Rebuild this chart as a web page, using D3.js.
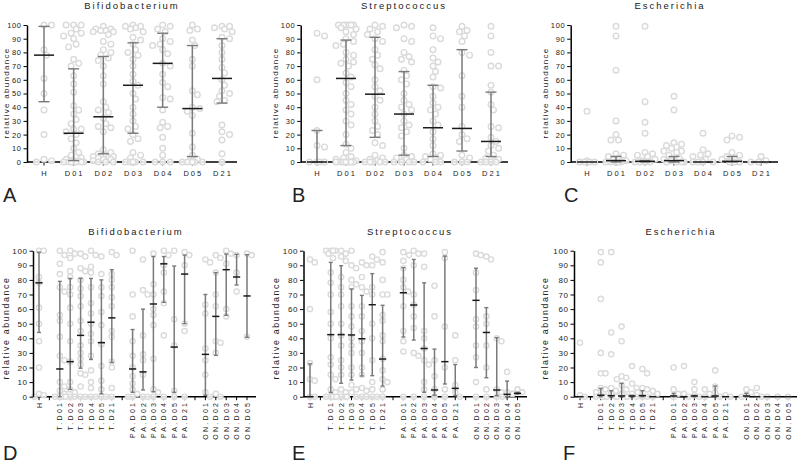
<!DOCTYPE html>
<html><head><meta charset="utf-8">
<script src="https://cdn.jsdelivr.net/npm/d3@7"></script>
<style>
body{margin:0;background:#fff;}
svg{display:block;font-family:"Liberation Sans",Arial,sans-serif;}
</style></head>
<body>
<svg id="chart" width="798" height="463"></svg>
<script>
// ---------------- DATA ----------------
const topCategories = ["H","D01","D02","D03","D04","D05","D21"];
const bottomCategories = ["H","gap1","T.D01","T.D02","T.D03","T.D04","T.D05","T.D21","gap2",
  "PA.D01","PA.D02","PA.D03","PA.D04","PA.D05","PA.D21","gap3",
  "ON.D01","ON.D02","ON.D03","ON.D04","ON.D05"];
const bottomTickLabels = ["H","","T.D01","T.D02","T.D03","T.D04","T.D05","T.D21","",
  "PA.D01","PA.D02","PA.D03","PA.D04","PA.D05","PA.D21","",
  "ON.D01","ON.D02","ON.D03","ON.D04","ON.D05"];
const yTicks = [0,10,20,30,40,50,60,70,80,90,100];

// Panel A – Bifidobacterium (top)
const bifTopMedian = [78,21,33,56,72,39,61];
const bifTopLow    = [44,1,6,21,40,4,43];
const bifTopHigh   = [99,68,77,87,94,85,90];
const bifTopPoints = [
  [100,100,82,78,61,50,38,20,2,1,0],
  [100,100,100,97,94,94,92,90,86,84,75,72,70,63,57,51,41,38,35,31,28,24,24,22,20,17,14,10,7,5,3,2,1,1,0,0,0,0,0,0],
  [99,97,97,96,96,95,95,93,88,86,82,80,78,76,74,70,63,57,44,40,38,36,32,28,26,25,22,9,7,6,5,4,4,4,3,3,2,2,1,0,0,0],
  [100,99,99,98,97,95,91,89,86,82,80,78,75,70,64,59,56,50,46,40,35,30,26,24,20,17,15,7,5,3,0,0,0,0,0],
  [100,99,97,95,90,88,86,85,82,79,72,70,64,58,55,47,46,38,29,26,25,18,10,5,0,0,0],
  [100,97,96,89,85,75,70,52,49,40,39,37,34,21,11,5,2,1,0,0,0,0,0],
  [99,99,98,97,95,91,90,85,80,75,69,65,60,56,52,50,48,45,44,27,22,20,16,6,0]
];

// Panel B – Streptococcus (top)
const strTopMedian = [0,61,49.5,35,25,24.5,15];
const strTopLow    = [0,12,18,5,4,8,4];
const strTopHigh   = [23,89,91,66,56,82,51];
const strTopPoints = [
  [94,92,60,23,12,11,0,0,0,0],
  [100,100,100,100,100,100,98,97,95,93,90,88,86,85,80,78,75,73,72,70,65,62,58,55,50,45,42,38,35,30,27,20,13,10,7,4,3,2,1,0,0,0,0,0,0,0],
  [100,99,97,95,93,90,88,82,78,75,71,68,60,55,52,48,45,40,35,30,26,23,20,14,12,5,3,2,1,0,0,0,0,0],
  [100,99,98,90,88,80,77,75,73,67,63,60,57,50,45,42,40,38,35,30,27,25,22,19,10,5,4,3,2,0,0,0,0],
  [98,92,90,82,76,73,70,66,62,55,54,48,43,40,38,35,30,27,22,17,12,6,5,4,3,2,0,0,0],
  [99,96,95,92,88,80,78,63,48,40,26,20,17,15,5,3,0,0,0],
  [99,92,80,70,70,56,51,42,38,26,25,18,15,12,10,8,5,3,2,0,0,0,0]
];

// Panel C – Escherichia (top)
const escTopMedian = [0,1,0.5,1,0,0.5,0];
const escTopLow    = [0,0,0,0,0,0,0];
const escTopHigh   = [0,4,1,4,0,4,0];
const escTopPoints = [
  [37,1,0,0,0,0],
  [99,92,67,30,20,16,16,6,5,4,3,2,1,0,0,0,0,0],
  [99,44,29,21,7,6,5,4,2,1,0,0,0,0],
  [48,38,14,13,12,11,10,8,8,7,5,3,2,1,0,0,0,0],
  [21,9,6,5,4,2,0,0,0,0],
  [19,18,16,7,5,4,3,2,0,0,0],
  [4,1,0,0]
];

// Panel D – Bifidobacterium (bottom, by group); null = empty column
const bifBotMedian = [78,null,19,24,42,51,37,54,null,19,17,63.5,91,34,84,null,29,55,87,82,69];
const bifBotLow    = [44,null,0,5,19.5,25.5,2,23.5,null,3,4.6,3.4,64.6,3,50,null,1,28.3,55.7,76.5,40.7];
const bifBotHigh   = [99,null,79,81,81,81,80,87,null,46,60,96,96,89.5,97,null,70,85,97.7,97.5,97.3];
const bifBotPoints = [
  [100,100,82,78,61,50,38,20,2,1,0],
  [],
  [100,97,91,84,75,72,56,52,41,28,25,10,7,4,2,0,0,0,0],
  [100,98,95,86,82,75,70,61,50,38,24,10,5,3,0,0,0],
  [98,96,88,86,80,74,69,62,52,45,35,30,26,22,16,15,7,0,0],
  [100,97,89,85,75,64,57,50,43,38,28,18,10,6,0,0],
  [96,84,75,69,58,49,36,21,11,5,0,0],
  [99,97,84,80,75,68,62,45,41,24,20,6,0],
  [],
  [100,70,55,38,28,20,14,9,5,2,0,0],
  [94,73,70,42,29,25,15,0,0],
  [98,77,70,60,56,49,26,5,3,0],
  [100,97,90,85,72,64,42,0],
  [100,53,35,4,0],
  [99,97,90,50,45,0],
  [],
  [94,92,63,57,33,25,15,3,0],
  [97,95,85,70,62,38,37,30,2,0],
  [100,98,91,60,55],
  [97,85,72],
  [98,97,41]
];

// Panel E – Streptococcus (bottom)
const strBotMedian = [0,null,42.5,42.5,42.3,39.7,63,25.8,null,71.2,62.8,33,4.6,24,5.7,null,66,44,4.6,1.6,2.3];
const strBotLow    = [0,null,2.8,9.2,11.4,14.2,14.4,7.3,null,40.9,38.8,3,1,8.7,0.7,null,20,13,0.7,0,1.8];
const strBotHigh   = [22.5,null,92,89.7,73.8,69.4,84.3,62.6,null,88.4,94,78,32.6,96.3,22,null,88,61,40.4,10.7,3];
const strBotPoints = [
  [94,92,60,23,12,11,0,0],
  [],
  [100,100,100,100,98,95,85,78,70,58,50,40,27,22,15,12,5,3,0,0,0,0],
  [100,98,96,93,82,75,70,62,50,42,35,25,20,15,5,3,0,0,0],
  [100,90,88,80,77,75,62,55,48,40,35,30,20,15,8,5,3,0,0],
  [92,90,82,75,72,62,55,45,38,30,20,15,6,4,0,0],
  [96,94,90,75,70,50,40,25,10,5,0,0],
  [99,92,80,70,70,56,52,42,38,26,18,12,10,5,0],
  [],
  [99,93,88,80,75,72,62,45,38,31,0],
  [100,98,97,90,70,63,55,47,30,28,0],
  [98,89,45,40,33,25,22,10,5,0],
  [76,55,25,14,5,0],
  [99,95,48,20,5,0],
  [42,25,8,3,0],
  [],
  [98,97,85,73,53,48,35,27,10,0],
  [96,94,55,50,35,20,5,0],
  [40,38,5,3,0],
  [17,3,2,0],
  [5,3,2]
];

// Panel F – Escherichia (bottom)
const escBotMedian = [0,null,1,0.7,0.5,0.5,0.7,0,null,0.5,0,0.5,0,0.5,0,null,0.5,0,0,0,0];
const escBotLow    = [0,null,0,0,0,0,0,0,null,0,0,0,0,0,0,null,0,0,0,0,0];
const escBotHigh   = [0,null,5.7,4.1,9.1,1,4.1,0,null,2.3,0,1,0,7.3,0,null,2.3,0,0,0,0];
const escBotPoints = [
  [37,1,0],
  [],
  [99,92,67,30,16,16,6,5,3,1,0,0,0],
  [99,44,29,6,4,2,0,0],
  [48,38,14,13,12,8,5,2,0,0],
  [21,9,6,2,0,0],
  [19,16,6,5,3,0,0],
  [4,2,0],
  [],
  [20,5,2,0],
  [21,2,0],
  [10,5,1,0],
  [5,2,0],
  [18,7,3,0],
  [1,0],
  [],
  [5,3,1,0],
  [6,1,0],
  [0],[0],[0]
];

// ---------------- LAYOUT ----------------
const svg = d3.select("#chart");
const FONT = "'Liberation Sans', Arial, sans-serif";

const panels = [
  {title:"Bifidobacterium", letter:"A", cats:topCategories, labels:topCategories,
   med:bifTopMedian, lo:bifTopLow, hi:bifTopHigh, pts:bifTopPoints,
   xr:[44,222], yAxisX:27, axisEnd:237, yr:[162,25], top:true,
   titleX:132, titleY:8.5, ylabX:6, ylabY:93, letterX:3, letterY:202},
  {title:"Streptococcus", letter:"B", cats:topCategories, labels:topCategories,
   med:strTopMedian, lo:strTopLow, hi:strTopHigh, pts:strTopPoints,
   xr:[317,491], yAxisX:300.7, axisEnd:508, yr:[162,25], top:true,
   titleX:404, titleY:8.5, ylabX:275, ylabY:93, letterX:292, letterY:202},
  {title:"Escherichia", letter:"C", cats:topCategories, labels:topCategories,
   med:escTopMedian, lo:escTopLow, hi:escTopHigh, pts:escTopPoints,
   xr:[587,761], yAxisX:570.7, axisEnd:778, yr:[162,25], top:true,
   titleX:670, titleY:8.5, ylabX:545, ylabY:93, letterX:564, letterY:202},
  {title:"Bifidobacterium", letter:"D", cats:bottomCategories, labels:bottomTickLabels,
   med:bifBotMedian, lo:bifBotLow, hi:bifBotHigh, pts:bifBotPoints,
   xr:[39,247], yAxisX:33, axisEnd:256, yr:[396.7,250.7], top:false,
   titleX:136, titleY:235, ylabX:6, ylabY:328, letterX:3, letterY:460},
  {title:"Streptococcus", letter:"E", cats:bottomCategories, labels:bottomTickLabels,
   med:strBotMedian, lo:strBotLow, hi:strBotHigh, pts:strBotPoints,
   xr:[310,517.5], yAxisX:303.5, axisEnd:527, yr:[396.7,250.7], top:false,
   titleX:410, titleY:235, ylabX:276, ylabY:328, letterX:292, letterY:460},
  {title:"Escherichia", letter:"F", cats:bottomCategories, labels:bottomTickLabels,
   med:escBotMedian, lo:escBotLow, hi:escBotHigh, pts:escBotPoints,
   xr:[580,788], yAxisX:574, axisEnd:797, yr:[396.7,250.7], top:false,
   titleX:681, titleY:235, ylabX:545, ylabY:328, letterX:563, letterY:460}
];

function swarm(values, cx, y, r, maxOff) {
  const placed = [];
  const cands = [0];
  for (let k = 1; k * r * 0.9 <= maxOff; k++) { cands.push(k*r*0.9, -k*r*0.9); }
  const minD = 2*r*1.05;
  values.forEach(v => {
    const cy = y(v);
    let best = null, bestD = -1;
    for (const off of cands) {
      const px = cx + off;
      let d = Infinity;
      for (const p of placed) {
        const dd = Math.hypot(p.x - px, p.y - cy);
        if (dd < d) d = dd;
      }
      if (d >= minD) { best = px; bestD = d; break; }
      if (d > bestD) { bestD = d; best = px; }
    }
    placed.push({x: best, y: cy});
  });
  return placed;
}

panels.forEach(p => {
  const g = svg.append("g");
  const x = d3.scalePoint().domain(p.cats).range(p.xr);
  const y = d3.scaleLinear().domain([0,100]).range(p.yr);
  const r = p.top ? 2.8 : 2.6;
  const maxOff = p.top ? 12.5 : 6.5;
  const medW = p.top ? 10 : 3.6;
  const capW = p.top ? 5.5 : 2;

  // x axis line
  g.append("line").attr("x1", p.yAxisX).attr("x2", p.axisEnd)
    .attr("y1", y(0)).attr("y2", y(0)).attr("stroke","#000").attr("stroke-width",1.5);
  // x ticks
  g.selectAll(".xt").data(p.cats).enter().append("line")
    .attr("x1", d => x(d)).attr("x2", d => x(d))
    .attr("y1", y(0)).attr("y2", y(0) + 3.5)
    .attr("stroke","#000").attr("stroke-width",1);

  // points
  p.pts.forEach((vals, i) => {
    const cx = x(p.cats[i]);
    const pos = swarm(vals, cx, y, r, maxOff);
    g.selectAll(null).data(pos).enter().append("circle")
      .attr("cx", d => d.x).attr("cy", d => d.y).attr("r", r)
      .attr("fill","#fff").attr("fill-opacity",0.85)
      .attr("stroke","#dadada").attr("stroke-width",1.4);
  });

  // error bars
  p.cats.forEach((c, i) => {
    if (p.med[i] === null) return;
    const cx = x(c);
    if (p.hi[i] > p.lo[i]) {
      g.append("line").attr("x1",cx).attr("x2",cx).attr("y1",y(p.lo[i])).attr("y2",y(p.hi[i]))
        .attr("stroke","#7a7a7a").attr("stroke-width",1.5);
      [p.lo[i], p.hi[i]].forEach(v => {
        g.append("line").attr("x1",cx-capW).attr("x2",cx+capW).attr("y1",y(v)).attr("y2",y(v))
          .attr("stroke","#7a7a7a").attr("stroke-width",1.4);
      });
    }
    g.append("line").attr("x1",cx-medW).attr("x2",cx+medW).attr("y1",y(p.med[i])).attr("y2",y(p.med[i]))
      .attr("stroke","#1a1a1a").attr("stroke-width",1.5);
  });

  // y axis
  const ya = g.append("g").attr("transform",`translate(${p.yAxisX},0)`)
    .call(d3.axisLeft(y).tickValues(yTicks).tickSize(3.5).tickSizeOuter(0).tickPadding(2));
  ya.select(".domain").attr("stroke","#000").attr("stroke-width",1.5);
  ya.selectAll(".tick line").attr("stroke","#000").attr("stroke-width",1);
  ya.selectAll(".tick text").attr("font-family",FONT).attr("font-size", p.top ? 7.5 : 8)
    .attr("fill","#222").style("letter-spacing","0.6px");

  // x labels
  if (p.top) {
    g.selectAll(".xl").data(p.cats).enter().append("text")
      .attr("x", (d) => x(d) + 1).attr("y", 176)
      .attr("text-anchor","middle").attr("font-family",FONT).attr("font-size",7.5)
      .attr("fill","#222").style("letter-spacing","2px")
      .text((d,i) => p.labels[i]);
  } else {
    g.selectAll(".xl").data(p.cats).enter().append("text")
      .attr("transform", d => `translate(${x(d)},${y(0)+4}) rotate(-90)`)
      .attr("text-anchor","end").attr("dominant-baseline","central")
      .attr("font-family",FONT).attr("font-size",7)
      .attr("fill","#222").style("letter-spacing","2.3px")
      .text((d,i) => p.labels[i]);
  }

  // title
  g.append("text").attr("x",p.titleX).attr("y",p.titleY).attr("text-anchor","middle")
    .attr("font-family",FONT).attr("font-size",9.5).attr("fill","#222")
    .style("letter-spacing","2px").text(p.title);

  // y title
  g.append("text").attr("transform",`translate(${p.ylabX},${p.ylabY}) rotate(-90)`)
    .attr("text-anchor","middle").attr("dominant-baseline","central")
    .attr("font-family",FONT).attr("font-size", p.top ? 8 : 8.8).attr("fill","#222")
    .style("letter-spacing", p.top ? "1.3px" : "1.6px").text("relative abundance");

  // panel letter
  g.append("text").attr("x",p.letterX).attr("y",p.letterY)
    .attr("font-family",FONT).attr("font-size",20).attr("fill","#222").text(p.letter);
});
</script>
</body></html>
